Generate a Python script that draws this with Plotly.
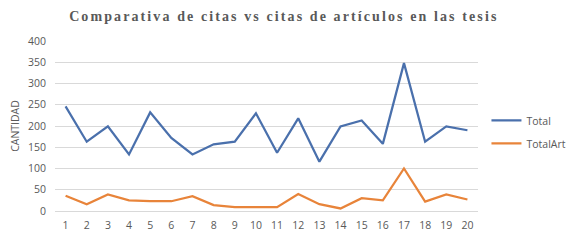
import plotly.graph_objects as go

categories = list(range(1, 21))
total = [246, 163, 199, 133, 232, 172, 133, 157, 163, 230, 137, 218, 116, 199, 213, 158, 348, 163, 199, 190]
total_art = [36, 16, 39, 25, 23, 23, 35, 14, 9, 9, 9, 40, 16, 6, 30, 25, 100, 22, 39, 27]
y_ticks = [0, 50, 100, 150, 200, 250, 300, 350, 400]
title_text = "Comparativa de citas vs citas de artículos en las tesis"

fig = go.Figure()
fig.add_trace(go.Scatter(x=categories, y=total, mode="lines", name="Total",
                         legendgroup="a",
                         line=dict(color="#4A70AC", width=2.25)))
fig.add_trace(go.Scatter(x=categories, y=total_art, mode="lines", name="TotalArt",
                         legendgroup="b",
                         line=dict(color="#E8843A", width=2.25)))

# page body has an 8px margin, so the figure is sized 8px smaller
fig.update_layout(
    width=571, height=232,
    margin=dict(l=47, r=101, t=33, b=29, autoexpand=False),
    paper_bgcolor="white", plot_bgcolor="white",
    title=dict(text='<span style="letter-spacing:2.1px">' + title_text + '</span>',
               x=0.483, xanchor="center", y=0.965, yanchor="middle",
               font=dict(family="Liberation Serif", size=14, color="#595959", weight="bold")),
    font=dict(family="Open Sans", size=10.5, color="#595959"),
    legend=dict(x=1.02, y=0.465, xanchor="left", yanchor="middle",
                font=dict(size=10.5, color="#595959"), tracegroupgap=4,
                traceorder="grouped", itemwidth=30),
    showlegend=True,
)
fig.update_xaxes(range=[0.5, 20.5], tickmode="array", tickvals=categories,
                 ticktext=[str(c) for c in categories], showgrid=False,
                 showline=True, linecolor="#D9D9D9", ticks="", zeroline=False,
                 ticklabelstandoff=4,
                 tickfont=dict(size=10.5, color="#595959"))
fig.update_yaxes(range=[0, 400], tickmode="array", tickvals=y_ticks,
                 showgrid=True, gridcolor="#D9D9D9", gridwidth=1, zeroline=False,
                 showline=False, ticks="", ticklabelstandoff=8,
                 title=dict(text="CANTIDAD", font=dict(size=10.5, color="#595959"), standoff=10),
                 tickfont=dict(size=10.5, color="#595959"))

fig.write_html("out.html")
